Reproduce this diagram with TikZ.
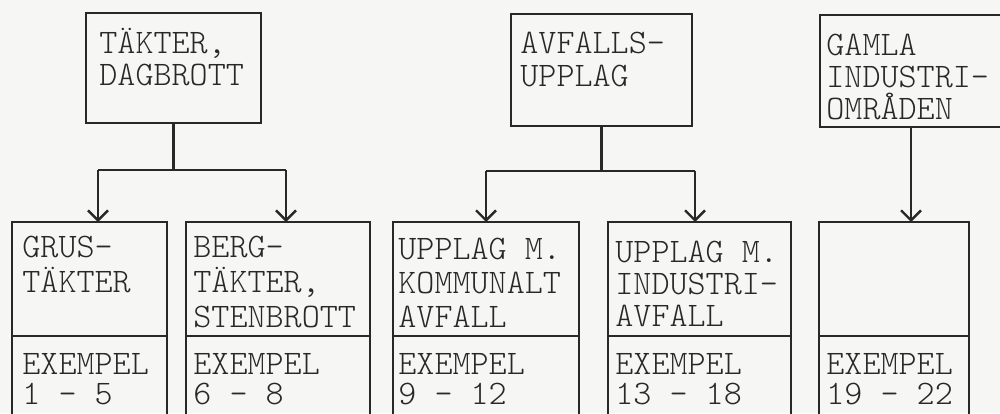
\documentclass[tikz,border=0pt]{standalone}
\usetikzlibrary{arrows.meta}
\definecolor{paper}{RGB}{246,246,244}
\definecolor{ink}{RGB}{40,40,40}
\newcommand{\tl}[2]{\vtop{\baselineskip=#1pt\lineskiplimit=-20pt\lineskip=0pt #2}}
\begin{document}
\begin{tikzpicture}[x=0.5pt,y=-0.5pt,
  box/.style={draw=ink,line width=1.2pt,rectangle,inner sep=0pt,outer sep=0pt,anchor=north west},
  txt/.style={anchor=base west,inner sep=0pt,text=ink,font=\fontseries{l}\ttfamily\fontsize{17.2}{17}\selectfont},
  arr/.style={draw=ink,line width=1.2pt,-{Straight Barb[length=5pt,width=10pt,line width=1.2pt]}},
  conn/.style={draw=ink,line width=1.2pt}]
\useasboundingbox (0,0) rectangle (1000,413);
\fill[paper] (0,0) rectangle (1000,413);
\clip (0,0) rectangle (1000,413);
% top boxes
\node[box,minimum width=87.5pt,minimum height=55pt] (A) at (86,13) {};
\node[box,minimum width=90.5pt,minimum height=56pt] (B) at (511,14) {};
\node[box,minimum width=91pt,minimum height=56pt] (C) at (820,15) {};
% bottom boxes
\node[box,minimum width=77.5pt,minimum height=115pt] (b1) at (12,222) {};
\node[box,minimum width=92pt,minimum height=115pt] (b2) at (186,222) {};
\node[box,minimum width=93pt,minimum height=115pt] (b3) at (393,222) {};
\node[box,minimum width=91.5pt,minimum height=115pt] (b4) at (608,222) {};
\node[box,minimum width=75pt,minimum height=115pt] (b5) at (819,222) {};
% dividers
\coordinate (dv) at (0,336);
\foreach \b in {b1,b2,b3,b4,b5}{
  \draw[conn] (\b.west |- dv) -- (\b.east |- dv);
}
% texts top
\node[txt] (tA) at (99,53) {\tl{16}{\hbox{TÄKTER,}\hbox{DAGBROTT}}};
\node[txt] (tB) at (520,53) {\tl{16.5}{\hbox{AVFALLS-}\hbox{UPPLAG}}};
\node[txt] (tC) at (826,55) {\tl{16}{\hbox{GAMLA}\hbox{INDUSTRI-}\hbox{OMRÅDEN}}};
% texts bottom
\node[txt] (t1) at (22,257) {\tl{17.5}{\hbox{GRUS-}\hbox{TÄKTER}}};
\node[txt] (t2) at (193,257) {\tl{17.7}{\hbox{BERG-}\hbox{TÄKTER,}\hbox{STENBROTT}}};
\node[txt] (t3) at (398,259) {\tl{17}{\hbox{UPPLAG M.}\hbox{KOMMUNALT}\hbox{AVFALL}}};
\node[txt] (t4) at (615,262) {\tl{16.2}{\hbox{UPPLAG M.}\hbox{INDUSTRI-}\hbox{AVFALL}}};
\node[txt] (e1) at (22,374) {\tl{15.3}{\hbox{EXEMPEL}\hbox{1 - 5}}};
\node[txt] (e2) at (193,374) {\tl{15.3}{\hbox{EXEMPEL}\hbox{6 - 8}}};
\node[txt] (e3) at (398,374) {\tl{15.3}{\hbox{EXEMPEL}\hbox{9 - 12}}};
\node[txt] (e4) at (615,374) {\tl{15.3}{\hbox{EXEMPEL}\hbox{13 - 18}}};
\node[txt] (e5) at (826,374) {\tl{15.3}{\hbox{EXEMPEL}\hbox{19 - 22}}};
% connectors
\coordinate (ja1) at (98,170);
\coordinate (ja2) at (286,170);
\coordinate (jb1) at (486,171);
\coordinate (jb2) at (695,171);
\draw[conn] (A.south) -- (A.south |- ja1);
\draw[conn] (ja1) -- (ja2);
\draw[arr] (ja1) -- (b1.north -| ja1);
\draw[arr] (ja2) -- (b2.north -| ja2);
\draw[conn] (B.south) -- (B.south |- jb1);
\draw[conn] (jb1) -- (jb2);
\draw[arr] (jb1) -- (b3.north -| jb1);
\draw[arr] (jb2) -- (b4.north -| jb2);
\draw[arr] (C.south) -- (b5.north -| C.south);
\end{tikzpicture}
\end{document}
